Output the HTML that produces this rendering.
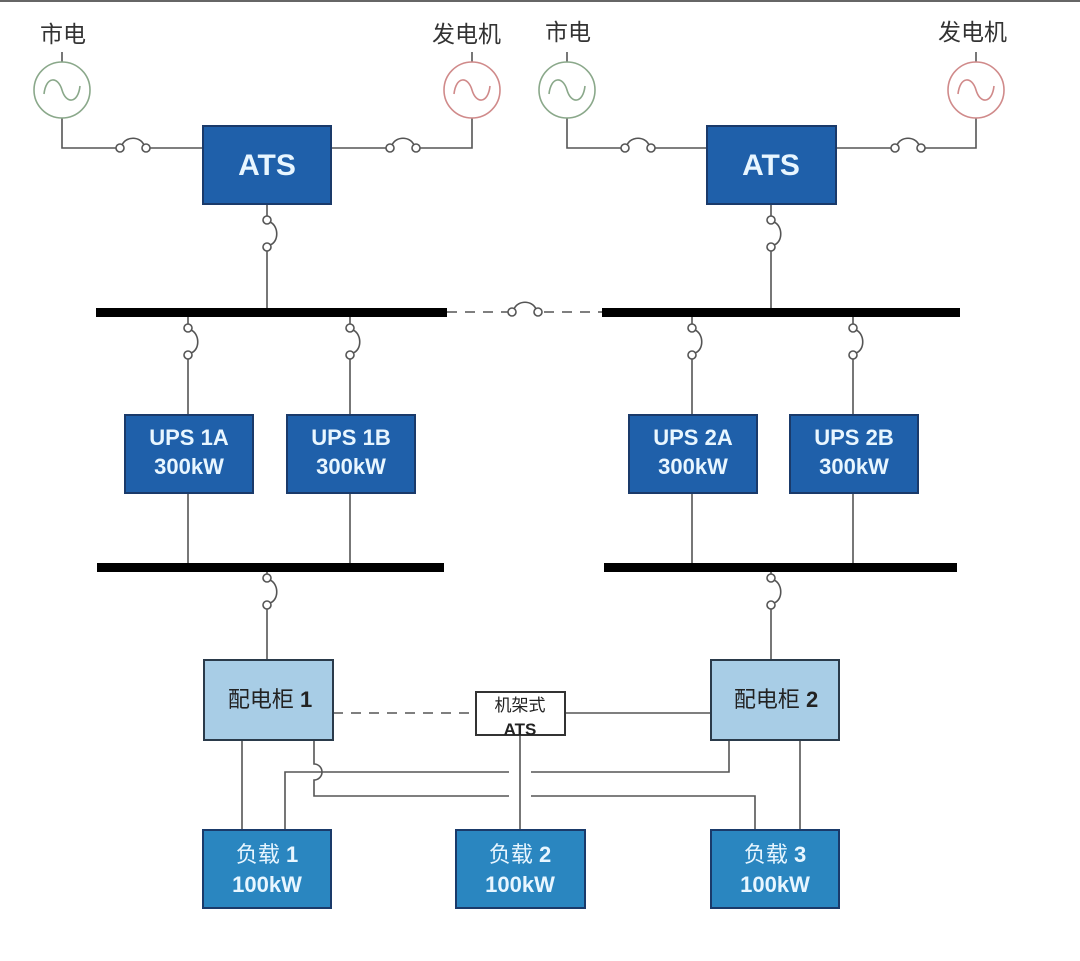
<!DOCTYPE html>
<html><head><meta charset="utf-8"><style>
html,body{margin:0;padding:0;background:#fff;}
svg{display:block;}
.t{font-family:"Liberation Sans","Noto Sans CJK SC",sans-serif;}
</style></head><body>
<svg width="1080" height="961" viewBox="0 0 1080 961" xmlns="http://www.w3.org/2000/svg">
<defs>
<g id="vsw"><circle cx="0" cy="0" r="4" fill="#fff" stroke="#555" stroke-width="1.6"/><circle cx="0" cy="27" r="4" fill="#fff" stroke="#555" stroke-width="1.6"/><path d="M3,2 C12,6 12,22 3,25" fill="none" stroke="#555" stroke-width="1.6"/></g>
<g id="hsw"><circle cx="0" cy="0" r="4" fill="#fff" stroke="#555" stroke-width="1.6"/><circle cx="26" cy="0" r="4" fill="#fff" stroke="#555" stroke-width="1.6"/><path d="M2,-3 C6,-12 20,-12 24,-3" fill="none" stroke="#555" stroke-width="1.6"/></g>
<path id="sine" d="M-18,4 C-16,-14 -4,-14 0,0 C4,14 16,14 18,-4" fill="none" stroke-width="1.6"/>
</defs>
<rect x="0" y="0" width="1080" height="2" fill="#666"/>
<g stroke="#555" stroke-width="1.6" fill="none">
<line x1="62" y1="52" x2="62" y2="62"/><line x1="472" y1="52" x2="472" y2="62"/>
<polyline points="62,118 62,148 116,148"/><line x1="150" y1="148" x2="203" y2="148"/>
<line x1="331" y1="148" x2="386" y2="148"/><polyline points="420,148 472,148 472,118"/>
<line x1="267" y1="204" x2="267" y2="216"/><line x1="267" y1="251" x2="267" y2="310"/>
<line x1="567" y1="52" x2="567" y2="62"/><line x1="976" y1="52" x2="976" y2="62"/>
<polyline points="567,118 567,148 621,148"/><line x1="655" y1="148" x2="707" y2="148"/>
<line x1="836" y1="148" x2="891" y2="148"/><polyline points="925,148 976,148 976,118"/>
<line x1="771" y1="204" x2="771" y2="216"/><line x1="771" y1="251" x2="771" y2="310"/>
<line x1="447" y1="312" x2="508" y2="312" stroke-dasharray="10,8"/>
<line x1="544" y1="312" x2="602" y2="312" stroke-dasharray="10,8"/>
<line x1="188" y1="316" x2="188" y2="324"/><line x1="188" y1="359" x2="188" y2="415"/>
<line x1="350" y1="316" x2="350" y2="324"/><line x1="350" y1="359" x2="350" y2="415"/>
<line x1="692" y1="316" x2="692" y2="324"/><line x1="692" y1="359" x2="692" y2="415"/>
<line x1="853" y1="316" x2="853" y2="324"/><line x1="853" y1="359" x2="853" y2="415"/>
<line x1="188" y1="493" x2="188" y2="566"/><line x1="350" y1="493" x2="350" y2="566"/>
<line x1="692" y1="493" x2="692" y2="566"/><line x1="853" y1="493" x2="853" y2="566"/>
<line x1="267" y1="572" x2="267" y2="574"/><line x1="267" y1="609" x2="267" y2="660"/>
<line x1="771" y1="572" x2="771" y2="574"/><line x1="771" y1="609" x2="771" y2="660"/>
<line x1="333" y1="713" x2="476" y2="713" stroke-dasharray="10,8"/>
<line x1="565" y1="713" x2="711" y2="713"/>
<line x1="242" y1="740" x2="242" y2="830"/>
<polyline points="285,830 285,772 509,772"/>
<polyline points="531,772 729,772 729,740"/>
<path d="M314,740 L314,764 A8,8 0 0 1 314,780 L314,796 L509,796"/>
<polyline points="531,796 755,796 755,830"/>
<line x1="800" y1="740" x2="800" y2="830"/>
<line x1="520" y1="735" x2="520" y2="830"/>
</g>
<g fill="none" stroke-width="1.6">
<circle cx="62" cy="90" r="28" stroke="#8aa88a"/><use href="#sine" x="62" y="90" stroke="#8aa88a"/>
<circle cx="472" cy="90" r="28" stroke="#d08a8a"/><use href="#sine" x="472" y="90" stroke="#d08a8a"/>
<circle cx="567" cy="90" r="28" stroke="#8aa88a"/><use href="#sine" x="567" y="90" stroke="#8aa88a"/>
<circle cx="976" cy="90" r="28" stroke="#d08a8a"/><use href="#sine" x="976" y="90" stroke="#d08a8a"/>
</g>
<g class="t" font-size="23" fill="#333">
<text x="40" y="42">市电</text><text x="432" y="42">发电机</text>
<text x="545" y="40">市电</text><text x="938" y="40">发电机</text>
</g>
<use href="#hsw" x="120" y="148"/><use href="#hsw" x="390" y="148"/>
<use href="#hsw" x="625" y="148"/><use href="#hsw" x="895" y="148"/>
<use href="#vsw" x="267" y="220"/><use href="#vsw" x="771" y="220"/>
<use href="#hsw" x="512" y="312"/>
<use href="#vsw" x="188" y="328"/><use href="#vsw" x="350" y="328"/>
<use href="#vsw" x="692" y="328"/><use href="#vsw" x="853" y="328"/>
<use href="#vsw" x="267" y="578"/><use href="#vsw" x="771" y="578"/>
<rect x="96" y="308" width="351" height="9" fill="#000"/>
<rect x="602" y="308" width="358" height="9" fill="#000"/>
<rect x="97" y="563" width="347" height="9" fill="#000"/>
<rect x="604" y="563" width="353" height="9" fill="#000"/>
<g stroke="#1a3a6a" stroke-width="2" fill="#1f60aa">
<rect x="203" y="126" width="128" height="78"/><rect x="707" y="126" width="129" height="78"/>
<rect x="125" y="415" width="128" height="78"/><rect x="287" y="415" width="128" height="78"/>
<rect x="629" y="415" width="128" height="78"/><rect x="790" y="415" width="128" height="78"/>
</g>
<g stroke="#1a3a6a" stroke-width="2" fill="#2a86c0">
<rect x="203" y="830" width="128" height="78"/><rect x="456" y="830" width="129" height="78"/><rect x="711" y="830" width="128" height="78"/>
</g>
<g stroke="#2a3a4a" stroke-width="2" fill="#a8cde6">
<rect x="204" y="660" width="129" height="80"/><rect x="711" y="660" width="128" height="80"/>
</g>
<rect x="476" y="692" width="89" height="43" fill="#fff" stroke="#333" stroke-width="2"/>
<g class="t" font-weight="bold" fill="#e8f6ff" text-anchor="middle">
<text x="267" y="175" font-size="30">ATS</text><text x="771" y="175" font-size="30">ATS</text>
<text x="189" y="445" font-size="22">UPS 1A</text><text x="189" y="474" font-size="22">300kW</text>
<text x="351" y="445" font-size="22">UPS 1B</text><text x="351" y="474" font-size="22">300kW</text>
<text x="693" y="445" font-size="22">UPS 2A</text><text x="693" y="474" font-size="22">300kW</text>
<text x="854" y="445" font-size="22">UPS 2B</text><text x="854" y="474" font-size="22">300kW</text>
</g>
<g class="t" fill="#e8f6ff" text-anchor="middle" font-size="22">
<text x="267" y="862">负载 <tspan font-weight="bold">1</tspan></text><text x="267" y="892" font-weight="bold">100kW</text>
<text x="520" y="862">负载 <tspan font-weight="bold">2</tspan></text><text x="520" y="892" font-weight="bold">100kW</text>
<text x="775" y="862">负载 <tspan font-weight="bold">3</tspan></text><text x="775" y="892" font-weight="bold">100kW</text>
</g>
<g class="t" fill="#222" text-anchor="middle" font-size="22">
<text x="270" y="707">配电柜 <tspan font-weight="bold">1</tspan></text>
<text x="776" y="707">配电柜 <tspan font-weight="bold">2</tspan></text>
<text x="520" y="711" font-size="17">机架式</text>
<text x="520" y="735" font-size="17" font-weight="bold">ATS</text>
</g>
</svg>
</body></html>
